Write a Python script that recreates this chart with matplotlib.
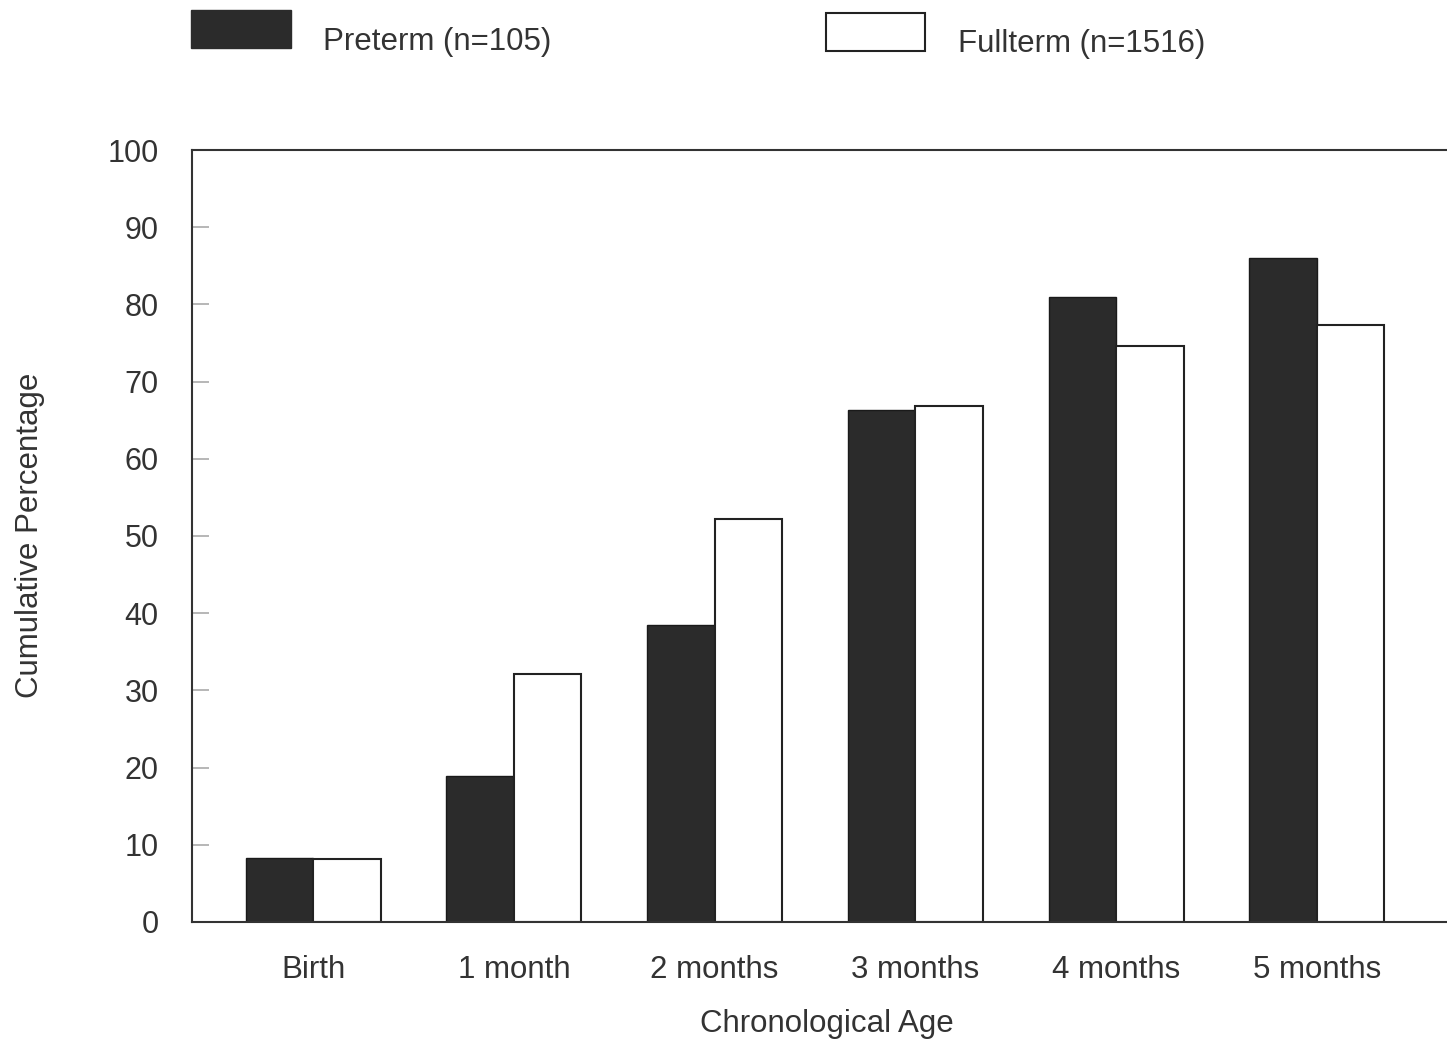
import matplotlib.pyplot as plt
from matplotlib.patches import Rectangle
import numpy as np

plt.rcParams['font.family'] = ['Liberation Sans', 'DejaVu Sans']

# data
ages = ['Birth', '1 month', '2 months', '3 months', '4 months', '5 months']
preterm = [8.3, 18.9, 38.5, 66.3, 81.0, 86.0]
fullterm = [8.2, 32.1, 52.2, 66.8, 74.6, 77.3]
yticks = [0, 10, 20, 30, 40, 50, 60, 70, 80, 90, 100]

txt = '#333333'
dark = '#2b2b2b'
fs = 22.5

fig = plt.figure(figsize=(14.47, 10.44), dpi=100)
ax = fig.add_axes([0.1327, 0.1169, 0.8673, 0.7394])

x = np.arange(len(ages))
w = 0.336
ax.bar(x - w / 2, preterm, w, color=dark, edgecolor='#1a1a1a', linewidth=1.0)
ax.bar(x + w / 2, fullterm, w, color='white', edgecolor='#222222', linewidth=1.5)

ax.set_xlim(-0.603, 5.648)
ax.set_ylim(0, 100)
ax.set_yticks(yticks)
ax.set_xticks(x)
ax.set_xticklabels(ages)

ax.tick_params(axis='y', direction='in', length=12, width=1.2, color='#aaaaaa',
               pad=24, labelsize=22, labelcolor=txt)
ax.tick_params(axis='x', length=0, pad=24, labelsize=fs, labelcolor=txt)

for s in ['left', 'bottom', 'top']:
    ax.spines[s].set_color('#333333')
    ax.spines[s].set_linewidth(1.5)
ax.spines['right'].set_visible(False)

fig.text(30 / 1447, 1 - 535 / 1044, 'Cumulative Percentage', rotation=90,
         ha='center', va='center', fontsize=fs, color=txt)
fig.text(827 / 1447, 1 - 1024 / 1044, 'Chronological Age',
         ha='center', va='center', fontsize=fs, color=txt)

# legend drawn by hand across the top
fig.patches.append(Rectangle((191 / 1447, 1 - 48 / 1044), 100 / 1447, 38 / 1044,
                             transform=fig.transFigure, facecolor=dark,
                             edgecolor=dark, linewidth=1))
fig.patches.append(Rectangle((826 / 1447, 1 - 51 / 1044), 99 / 1447, 38 / 1044,
                             transform=fig.transFigure, facecolor='white',
                             edgecolor='#222222', linewidth=1.5))
fig.text(323 / 1447, 1 - 42 / 1044, 'Preterm (n=105)', ha='left', va='center',
         fontsize=fs, color=txt)
fig.text(958 / 1447, 1 - 44 / 1044, 'Fullterm (n=1516)', ha='left', va='center',
         fontsize=fs, color=txt)

fig.savefig('out.png', dpi=100)
